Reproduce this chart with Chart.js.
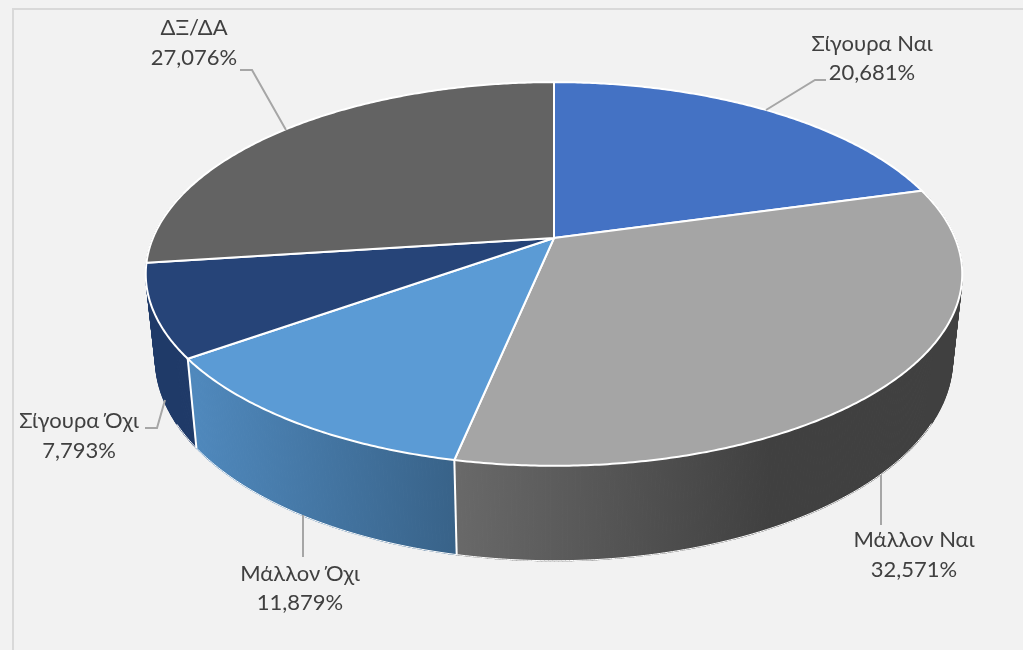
<!DOCTYPE html>
<html>
<head>
<meta charset="utf-8">
<title>Pie</title>
<script src="https://cdn.jsdelivr.net/npm/chart.js@4/dist/chart.umd.min.js"></script>
<style>
  html, body { margin: 0; padding: 0; background: #f2f2f2; overflow: hidden; }
  #frame { position: absolute; left: 12px; top: 8px; width: 1011px; height: 642px;
           border-left: 2px solid #d9d9d9; border-top: 2px solid #d9d9d9; box-sizing: border-box; }
  canvas { position: absolute; left: 0; top: 0; }
</style>
</head>
<body>
<div id="frame"></div>
<canvas id="pie" width="1023" height="650"></canvas>
<script>
const categories = ['Σίγουρα Ναι', 'Μάλλον Ναι', 'Μάλλον Όχι', 'Σίγουρα Όχι', 'ΔΞ/ΔΑ'];
const shares = [20.681, 32.571, 11.879, 7.793, 27.076];
const faceColors = ['#4472c4', '#a5a5a5', '#5b9bd5', '#264478', '#636363'];
// side wall gradient: colour at left, colour at right, and the x range it runs over
const wallColors = [
  ['#2f5597', '#2f5597', 700, 900],
  ['#696969', '#404040', 455, 770],
  ['#4f88bc', '#386288', 197, 458],
  ['#1f3a68', '#1f3a68', 150, 197],
  ['#4a4a4a', '#4a4a4a', 146, 554]
];

// label centre x, first line y, second line y
const labelSpots = [[872, 44, 73], [914, 540, 570], [300, 574, 603], [79, 421, 451], [194, 28, 58]];
// leader lines, from the label to the pie
const leaders = [
  [[826, 80], [815, 80], [766, 110]],
  [[881, 525], [881, 475]],
  [[303, 557], [303, 515]],
  [[145, 428], [157, 428], [165, 400]],
  [[240, 70], [252, 70], [286, 130]]
];

// perspective of the tilted disc, all relative to the pie radius
const tilt = 0.1875;
const topX = 1.692, topY = 0.781;
const bottomX = 1.652, bottomY = 0.822, bottomDrop = 0.35;

// maps an arc angle onto the top or the bottom disc
function project(arc, angle, lower) {
  const r = arc.outerRadius;
  const d = 1 - tilt * Math.sin(angle);
  if (lower) {
    return [arc.x + r * bottomX * Math.cos(angle) / d, arc.y + r * bottomDrop + r * bottomY * Math.sin(angle) / d];
  }
  return [arc.x + r * topX * Math.cos(angle) / d, arc.y + r * topY * Math.sin(angle) / d];
}

const pie3d = {
  id: 'pie3d',
  beforeDatasetsDraw(chart) {
    const ctx = chart.ctx;
    const arcs = chart.getDatasetMeta(0).data;
    const strips = [];

    arcs.forEach((arc, i) => {
      const w = wallColors[i];
      const grad = ctx.createLinearGradient(w[2], 0, w[3], 0);
      grad.addColorStop(0, w[0]);
      grad.addColorStop(1, w[1]);
      const step = Math.PI / 360;
      for (let a = arc.startAngle; a < arc.endAngle; a += step) {
        const next = Math.min(a + step, arc.endAngle);
        if (Math.sin(a) < -0.25 && Math.sin(next) < -0.25) continue;
        strips.push({ a: a, next: next, arc: arc, fill: grad });
      }
    });
    strips.sort((p, q) => Math.sin(p.a) - Math.sin(q.a));

    ctx.save();
    ctx.lineJoin = 'round';
    ctx.lineWidth = 1.2;
    strips.forEach(s => {
      const p = [project(s.arc, s.a, false), project(s.arc, s.next, false),
                 project(s.arc, s.next, true), project(s.arc, s.a, true)];
      ctx.beginPath();
      p.forEach((pt, n) => n ? ctx.lineTo(pt[0], pt[1]) : ctx.moveTo(pt[0], pt[1]));
      ctx.closePath();
      ctx.fillStyle = s.fill;
      ctx.strokeStyle = s.fill;
      ctx.fill();
      ctx.stroke();
    });

    // thin white line along the front of the bottom rim
    ctx.strokeStyle = '#ffffff';
    ctx.lineWidth = 1;
    ctx.beginPath();
    let started = false;
    const first = arcs[0];
    for (let a = 0.5; a < Math.PI - 0.5; a += Math.PI / 360) {
      const pt = project(first, a, true);
      if (started) ctx.lineTo(pt[0], pt[1]); else ctx.moveTo(pt[0], pt[1]);
      started = true;
    }
    ctx.stroke();

    // white edges between the slices on the wall
    ctx.lineWidth = 2;
    arcs.forEach(arc => {
      if (Math.sin(arc.endAngle) < 0.2) return;
      const t = project(arc, arc.endAngle, false);
      const b = project(arc, arc.endAngle, true);
      ctx.beginPath();
      ctx.moveTo(t[0], t[1]);
      ctx.lineTo(b[0], b[1]);
      ctx.stroke();
    });

    // top faces
    arcs.forEach(arc => {
      const steps = Math.ceil((arc.endAngle - arc.startAngle) / (Math.PI / 360));
      ctx.beginPath();
      ctx.moveTo(arc.x, arc.y);
      for (let n = 0; n <= steps; n++) {
        const pt = project(arc, arc.startAngle + (arc.endAngle - arc.startAngle) * n / steps, false);
        ctx.lineTo(pt[0], pt[1]);
      }
      ctx.closePath();
      ctx.fillStyle = arc.options.backgroundColor;
      ctx.fill();
      ctx.strokeStyle = arc.options.borderColor;
      ctx.lineWidth = arc.options.borderWidth;
      ctx.stroke();
    });
    ctx.restore();
    return false; // the plain flat arcs are not wanted
  },
  afterDraw(chart) {
    const ctx = chart.ctx;
    ctx.save();
    ctx.strokeStyle = '#a6a6a6';
    ctx.lineWidth = 2;
    leaders.forEach(line => {
      ctx.beginPath();
      line.forEach((pt, n) => n ? ctx.lineTo(pt[0], pt[1]) : ctx.moveTo(pt[0], pt[1]));
      ctx.stroke();
    });
    ctx.fillStyle = '#404040';
    ctx.font = '22px Lato, "Noto Sans", sans-serif';
    ctx.textAlign = 'center';
    ctx.textBaseline = 'middle';
    categories.forEach((name, i) => {
      const spot = labelSpots[i];
      ctx.fillText(name, spot[0], spot[1]);
      ctx.fillText(shares[i].toFixed(3).replace('.', ',') + '%', spot[0], spot[2]);
    });
    ctx.restore();
  }
};

new Chart(document.getElementById('pie'), {
  type: 'pie',
  data: {
    labels: categories,
    datasets: [{
      data: shares,
      backgroundColor: faceColors,
      borderColor: '#ffffff',
      borderWidth: 2
    }]
  },
  options: {
    responsive: false,
    animation: false,
    layout: { padding: { left: 85, bottom: 174 } },
    plugins: { legend: { display: false }, tooltip: { enabled: false } }
  },
  plugins: [pie3d]
});
</script>
</body>
</html>
